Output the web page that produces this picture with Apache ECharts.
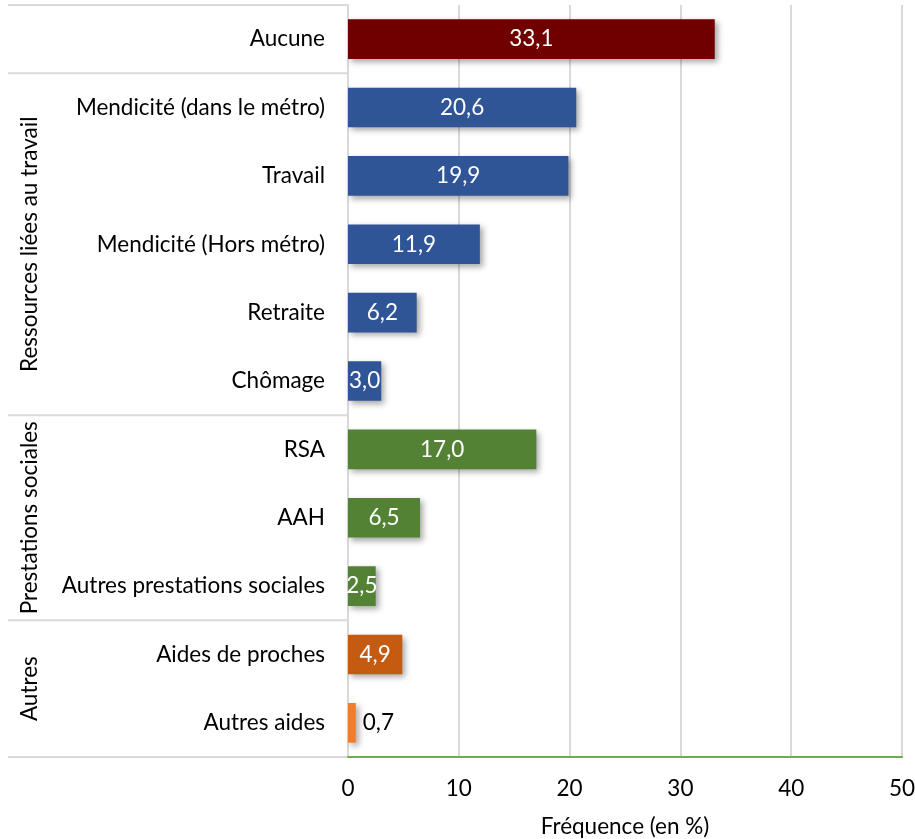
<!DOCTYPE html>
<html>
<head>
<meta charset="utf-8">
<script src="https://cdn.jsdelivr.net/npm/echarts@6/dist/echarts.min.js"></script>
<style>
  html, body { margin: 0; padding: 0; background: #fff; }
  #chart { width: 915px; height: 839px; }
</style>
</head>
<body>
<div id="chart"></div>
<script>
// Sources of income (%), top to bottom
const categories = [
  'Aucune',
  'Mendicité (dans le métro)',
  'Travail',
  'Mendicité (Hors métro)',
  'Retraite',
  'Chômage',
  'RSA',
  'AAH',
  'Autres prestations sociales',
  'Aides de proches',
  'Autres aides'
];
const values = [33.1, 20.6, 19.9, 11.9, 6.2, 3.0, 17.0, 6.5, 2.5, 4.9, 0.7];
const barColors = [
  '#700000',
  '#2F5597', '#2F5597', '#2F5597', '#2F5597', '#2F5597',
  '#548235', '#548235', '#548235',
  '#C55A11', '#ED7D31'
];
// Groups: name and number of categories they span (first row "Aucune" has no group)
const groupNames = ['', 'Ressources liées au travail', 'Prestations sociales', 'Autres'];
const groupSizes = [1, 5, 3, 2];
const xTicks = [0, 10, 20, 30, 40, 50];

const FONT = 'Lato';
const FS = 22.5;
const GRID = { left: 348, right: 13, top: 5, bottom: 82 };

const chart = echarts.init(document.getElementById('chart'));

function fmt(v) { return v.toFixed(1).replace('.', ','); }

const seriesData = values.map((v, i) => ({
  value: v,
  itemStyle: { color: barColors[i] },
  label: v < 1.5
    ? { position: 'right', distance: 7, color: '#000' }
    : { position: 'inside', color: '#fff' }
}));

const option = {
  animation: false,
  backgroundColor: '#fff',
  grid: Object.assign({ containLabel: false, outerBoundsMode: 'none' }, GRID),
  xAxis: {
    type: 'value',
    min: xTicks[0],
    max: xTicks[xTicks.length - 1],
    interval: 10,
    axisLine: { show: true, lineStyle: { color: '#70AD47', width: 2 } },
    axisTick: { show: false },
    splitLine: { show: true, lineStyle: { color: '#D9D9D9', width: 2 } },
    axisLabel: { fontFamily: FONT, fontSize: FS, color: '#000', margin: 20 },
    name: 'Fréquence (en %)',
    nameLocation: 'middle',
    nameGap: 58,
    nameTextStyle: { fontFamily: FONT, fontSize: FS, color: '#000' }
  },
  yAxis: {
    type: 'category',
    data: categories,
    inverse: true,
    axisLine: { show: true, lineStyle: { color: '#D9D9D9', width: 2 } },
    axisTick: { show: false },
    axisLabel: {
      fontFamily: FONT, fontSize: FS, color: '#000', margin: 23,
      padding: [3, 0, 0, 0]
    }
  },
  series: [{
    type: 'bar',
    data: seriesData,
    barCategoryGap: '42%',
    itemStyle: {
      shadowBlur: 6,
      shadowOffsetX: 3,
      shadowOffsetY: 3,
      shadowColor: 'rgba(0,0,0,0.35)'
    },
    label: {
      show: true,
      fontFamily: FONT,
      fontSize: FS,
      padding: [2, 0, 0, 0],
      formatter: p => fmt(p.value)
    }
  }]
};

chart.setOption(option);

// Group separators and rotated group titles in the left margin
function drawGroups() {
  const h = chart.getHeight();
  const top = GRID.top;
  const bottom = h - GRID.bottom;
  const band = (bottom - top) / categories.length;
  const x0 = 8, x1 = GRID.left;
  const elements = [];
  let idx = 0;
  const line = y => ({
    type: 'line',
    shape: { x1: x0, y1: y, x2: x1, y2: y },
    style: { stroke: '#D9D9D9', lineWidth: 2 },
    silent: true
  });
  elements.push(line(top));
  groupSizes.forEach((size, g) => {
    const yStart = top + idx * band;
    idx += size;
    const yEnd = top + idx * band;
    elements.push(line(yEnd));
    if (groupNames[g]) {
      elements.push({
        type: 'text',
        x: 30,
        y: (yStart + yEnd) / 2,
        rotation: Math.PI / 2,
        style: {
          text: groupNames[g],
          fontFamily: FONT,
          fontSize: FS,
          fill: '#000',
          align: 'center',
          verticalAlign: 'middle'
        },
        silent: true
      });
    }
  });
  chart.setOption({ graphic: { elements } });
}
drawGroups();
</script>
</body>
</html>
